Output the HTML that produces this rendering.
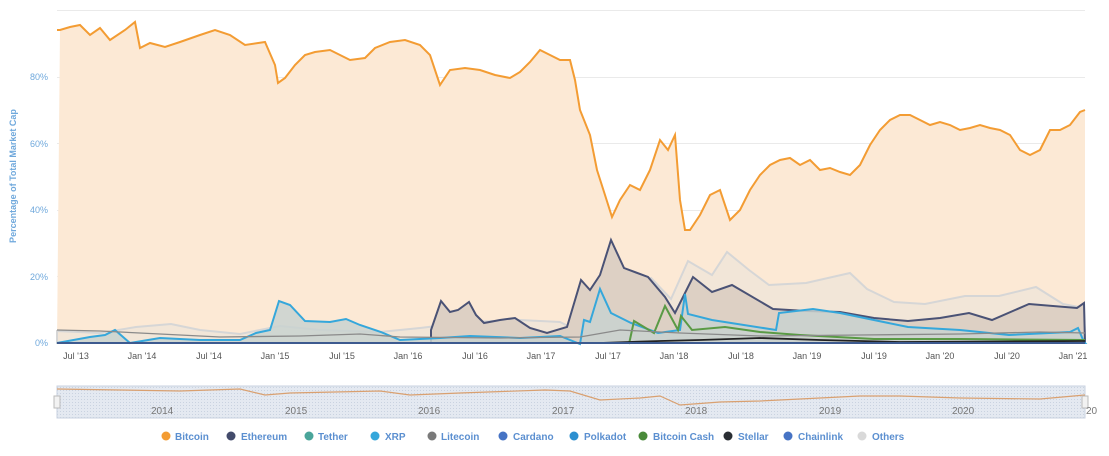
<!DOCTYPE html>
<html><head><style>
body{margin:0;background:#fff;font-family:"Liberation Sans",sans-serif;}
svg text{font-family:"Liberation Sans",sans-serif;}
</style></head><body>
<svg width="1109" height="451" viewBox="0 0 1109 451">
<defs>
<pattern id="dots" width="3" height="3" patternUnits="userSpaceOnUse"><rect width="3" height="3" fill="#e4e9f1"/><rect width="1" height="1" fill="#c9d2e0"/></pattern>
</defs>
<g stroke="#eaeaea" stroke-width="1">
<line x1="57" y1="10.5" x2="1085" y2="10.5"/><line x1="57" y1="77.5" x2="1085" y2="77.5"/>
<line x1="57" y1="143.5" x2="1085" y2="143.5"/><line x1="57" y1="210.5" x2="1085" y2="210.5"/>
<line x1="57" y1="276.5" x2="1085" y2="276.5"/>
</g>
<polygon fill="#fce9d5" points="57,343 60,30 70,27 80,25 90,35 100,28 110,40 125,30 135,22 140,48 150,43 165,47 180,42 200,35 215,30 230,35 245,45 265,42 275,65 278,83 285,78 295,65 305,55 315,52 330,50 350,60 365,58 375,48 390,42 405,40 420,45 430,55 440,85 450,70 465,68 480,70 495,75 510,78 520,72 530,62 540,50 550,55 560,60 570,60 575,80 580,110 590,135 597,170 605,195 612,217 620,200 630,185 640,190 650,170 660,140 668,150 675,135 680,200 685,230 690,230 700,215 710,195 720,190 730,220 740,210 750,190 760,175 770,165 780,160 790,158 800,165 810,160 820,170 830,168 840,172 850,175 860,165 870,145 880,130 890,120 900,115 910,115 920,120 930,125 940,122 950,125 960,130 970,128 980,125 990,128 1000,130 1010,135 1020,150 1030,155 1040,150 1050,130 1060,130 1070,125 1080,112 1085,110 1085,343"/>
<!-- others -->
<polygon fill="#f2e6d8" stroke="#d6d6d6" stroke-width="2" points="57,343 57,331 100,333 136,327 171,324 200,330 240,334 280,326 320,330 380,332 420,328 470,322 520,320 560,322 570,327 592,300 614,285 651,278 671,299 688,261 712,275 727,252 749,270 769,285 806,283 850,273 867,289 894,302 925,304 965,296 999,296 1036,287 1063,304 1084,308 1085,343"/>
<!-- ethereum -->
<polygon fill="#ddd0c4" stroke="#4a5275" stroke-width="2" points="431,343 431,330 441,301 450,312 458,310 469,302 476,315 484,323 500,320 515,318 530,328 547,333 567,327 581,280 590,290 600,275 611,240 624,268 648,277 665,297 675,313 693,277 712,292 732,285 773,309 806,311 840,312 874,318 908,321 940,318 969,313 992,320 1029,304 1077,308 1084,303 1085,343"/>
<!-- xrp -->
<polygon fill="#c9d2d0" fill-opacity="0.85" stroke="#35a7db" stroke-width="2" points="57,343 90,337 105,335 115,330 130,343 160,338 200,340 240,340 256,333 270,330 279,301 290,305 305,321 330,322 346,319 360,325 381,332 400,340 440,338 470,336 520,338 560,336 580,344 584,320 590,322 600,289 611,313 631,323 658,333 680,330 685,294 688,314 712,320 776,330 779,313 813,309 840,313 908,327 960,330 1009,335 1070,332 1078,328 1084,342 1085,343"/>
<!-- bitcoin cash -->
<polyline fill="none" stroke="#5a9a45" stroke-width="2" points="629,344 634,321 654,333 665,306 678,330 681,316 692,330 725,327 760,332 800,335 874,339 960,339 1085,340"/>
<!-- litecoin -->
<polyline fill="none" stroke="#8a8a8a" stroke-width="1.3" points="57,330 100,331 160,334 220,337 300,336 360,334 400,337 500,338 580,337 620,330 680,333 760,336 860,335 960,334 1040,332 1085,333"/>
<!-- stellar -->
<polyline fill="none" stroke="#222" stroke-width="1.8" points="600,343 660,341 700,340 760,338 820,340 900,342 1085,341"/>
<line x1="57" y1="343" x2="1085" y2="343" stroke="#3d5a8f" stroke-width="2"/>
<polyline fill="none" stroke="#f39c33" stroke-width="2" points="57,30 60,30 70,27 80,25 90,35 100,28 110,40 125,30 135,22 140,48 150,43 165,47 180,42 200,35 215,30 230,35 245,45 265,42 275,65 278,83 285,78 295,65 305,55 315,52 330,50 350,60 365,58 375,48 390,42 405,40 420,45 430,55 440,85 450,70 465,68 480,70 495,75 510,78 520,72 530,62 540,50 550,55 560,60 570,60 575,80 580,110 590,135 597,170 605,195 612,217 620,200 630,185 640,190 650,170 660,140 668,150 675,135 680,200 685,230 690,230 700,215 710,195 720,190 730,220 740,210 750,190 760,175 770,165 780,160 790,158 800,165 810,160 820,170 830,168 840,172 850,175 860,165 870,145 880,130 890,120 900,115 910,115 920,120 930,125 940,122 950,125 960,130 970,128 980,125 990,128 1000,130 1010,135 1020,150 1030,155 1040,150 1050,130 1060,130 1070,125 1080,112 1085,110"/>
<g fill="#6fa8dc" font-size="9" text-anchor="end">
<text x="48" y="346">0%</text><text x="48" y="280">20%</text><text x="48" y="213">40%</text><text x="48" y="147">60%</text><text x="48" y="80">80%</text>
</g>
<text transform="translate(16,176) rotate(-90)" fill="#6fa8dc" font-size="9" font-weight="bold" text-anchor="middle">Percentage of Total Market Cap</text>
<g fill="#555" font-size="9" text-anchor="middle">
<text x="76" y="359">Jul '13</text><text x="142" y="359">Jan '14</text><text x="209" y="359">Jul '14</text><text x="275" y="359">Jan '15</text><text x="342" y="359">Jul '15</text><text x="408" y="359">Jan '16</text><text x="475" y="359">Jul '16</text><text x="541" y="359">Jan '17</text><text x="608" y="359">Jul '17</text><text x="674" y="359">Jan '18</text><text x="741" y="359">Jul '18</text><text x="807" y="359">Jan '19</text><text x="874" y="359">Jul '19</text><text x="940" y="359">Jan '20</text><text x="1007" y="359">Jul '20</text><text x="1073" y="359">Jan '21</text>
</g>
<rect x="57" y="386" width="1028" height="32" fill="url(#dots)" stroke="#c9d2e0"/>
<polyline fill="none" stroke="#d9a070" stroke-width="1.2" points="57,389 120,390 180,391 240,389 265,395 290,393 380,391 410,395 460,393 545,390 570,391 600,400 640,398 660,396 680,405 720,402 760,401 800,399 860,396 900,396 960,398 1040,399 1085,395"/>
<rect x="54" y="396" width="6" height="12" fill="#f2f2f2" stroke="#bbb"/>
<rect x="1082" y="396" width="6" height="12" fill="#f2f2f2" stroke="#bbb"/>
<g fill="#777" font-size="10">
<text x="151" y="414">2014</text><text x="285" y="414">2015</text><text x="418" y="414">2016</text><text x="552" y="414">2017</text><text x="685" y="414">2018</text><text x="819" y="414">2019</text><text x="952" y="414">2020</text><text x="1086" y="414">20</text>
</g>
<g font-size="10" font-weight="bold" fill="#5b8fd0">
<circle cx="166" cy="436" r="4.5" fill="#f39c33"/><text x="175" y="440">Bitcoin</text>
<circle cx="231" cy="436" r="4.5" fill="#434b6b"/><text x="241" y="440">Ethereum</text>
<circle cx="309" cy="436" r="4.5" fill="#4aa59a"/><text x="318" y="440">Tether</text>
<circle cx="375" cy="436" r="4.5" fill="#35a7db"/><text x="385" y="440">XRP</text>
<circle cx="432" cy="436" r="4.5" fill="#7a7a7a"/><text x="441" y="440">Litecoin</text>
<circle cx="503" cy="436" r="4.5" fill="#4673c4"/><text x="513" y="440">Cardano</text>
<circle cx="574" cy="436" r="4.5" fill="#2c8fd0"/><text x="584" y="440">Polkadot</text>
<circle cx="643" cy="436" r="4.5" fill="#4a8a3a"/><text x="653" y="440">Bitcoin Cash</text>
<circle cx="728" cy="436" r="4.5" fill="#2a2e33"/><text x="738" y="440">Stellar</text>
<circle cx="788" cy="436" r="4.5" fill="#4673c4"/><text x="798" y="440">Chainlink</text>
<circle cx="862" cy="436" r="4.5" fill="#d9d9d9"/><text x="872" y="440">Others</text>
</g>
</svg>
</body></html>
